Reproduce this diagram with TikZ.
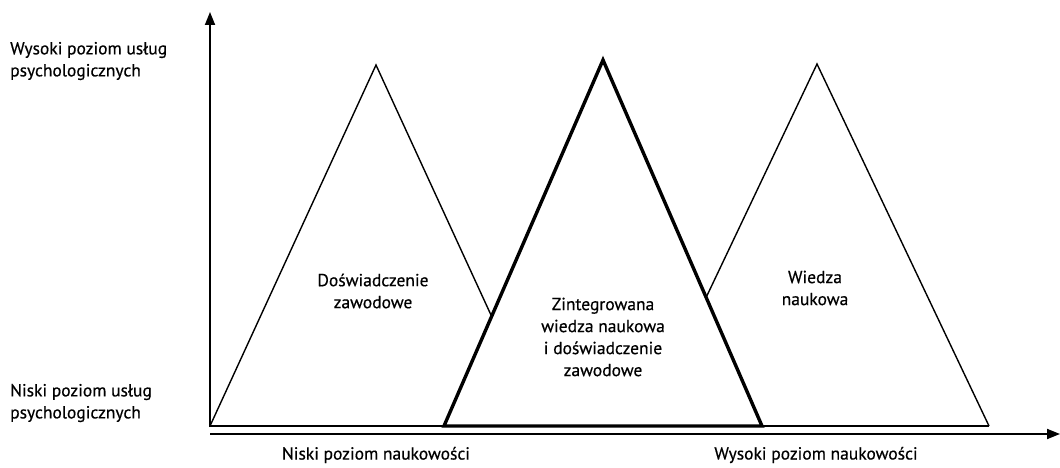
\documentclass[tikz,border=0pt]{standalone}
\usepackage{fontspec}
\setmainfont{PT Sans}[BoldFont={PT Sans},BoldFeatures={FakeBold=0.5}]
\usetikzlibrary{arrows.meta}
\begin{document}
\begin{tikzpicture}[x=1pt,y=-1pt,
  thinln/.style={line width=1.4pt, line join=miter},
  thickln/.style={line width=3.4pt, line join=miter},
  axisln/.style={line width=1.8pt, -{Triangle[length=13pt,width=10pt]}},
  txt/.style={font=\fontsize{17.5}{22}\selectfont\bfseries, inner sep=0pt},
  lbl/.style={txt, align=left, anchor=west},
  ctr/.style={txt, align=center}]
\useasboundingbox[fill=white] (0,0) rectangle (1060,468);
% axes
\coordinate (O) at (210,427);
\coordinate (Ytip) at (210,12);
\coordinate (Xo) at (210,434);
\coordinate (Xtip) at (1060,434);
\draw[axisln] (O) -- (Ytip);
\draw[axisln] (Xo) -- (Xtip);
% triangles
\coordinate (LA) at (376,65);
\coordinate (LL) at (210,426);
\coordinate (LR) at (542,426);
\coordinate (MA) at (603,60);
\coordinate (ML) at (444,426);
\coordinate (MR) at (762,426);
\coordinate (RA) at (817,64);
\coordinate (RL) at (645,426);
\coordinate (RR) at (989,426);
\coordinate (X1) at (intersection of LA--LR and MA--ML);
\coordinate (X2) at (intersection of RA--RL and MA--MR);
\draw[thinln] (LL) -- (RR);
\draw[thinln] (LL) -- (LA) -- (X1);
\draw[thinln] (X2) -- (RA) -- (RR);
\draw[thickln] (ML) -- (MA) -- (MR) -- cycle;
% labels
\node[lbl] (hi) at (10,61) {Wysoki poziom usług\\psychologicznych};
\node[lbl] (lo) at (10,403) {Niski poziom usług\\psychologicznych};
\node[ctr] (lx) at (376,455) {Niski poziom naukowości};
\node[ctr] (hx) at (816,455) {Wysoki poziom naukowości};
\node[ctr] (dz) at (373,291) {Doświadczenie\\zawodowe};
\node[ctr] (wn) at (815,288) {Wiedza\\naukowa};
\node[ctr] (zw) at (603,337) {Zintegrowana\\wiedza naukowa\\i doświadczenie\\zawodowe};
\end{tikzpicture}
\end{document}
